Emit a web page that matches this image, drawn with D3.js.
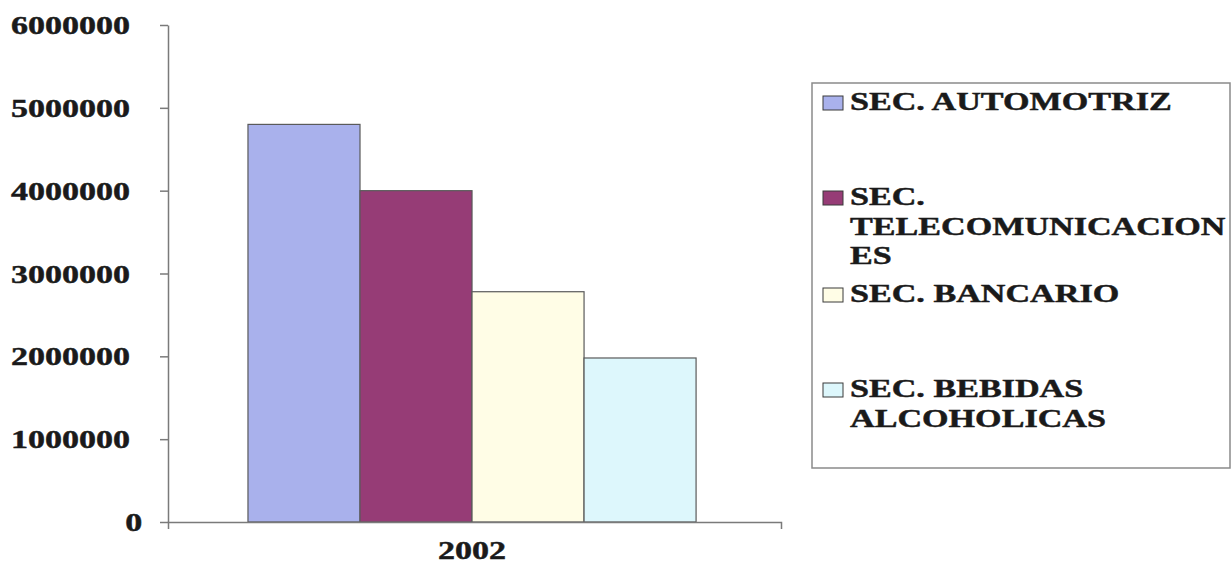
<!DOCTYPE html>
<html>
<head>
<meta charset="utf-8">
<script src="https://cdn.jsdelivr.net/npm/d3@7"></script>
<style>
  html, body { margin: 0; padding: 0; background: #fff; }
  svg { display: block; }
  text { font-family: "Liberation Serif", "Times New Roman", serif; font-weight: bold; fill: #1a1a1a; stroke: #1a1a1a; stroke-width: 0.45px; }
</style>
</head>
<body>
<svg id="chart" width="1231" height="564"></svg>
<script>
// Chart data
const years = ["2002"];
const sectors = ["SEC. AUTOMOTRIZ", "SEC. TELECOMUNICACIONES", "SEC. BANCARIO", "SEC. BEBIDAS ALCOHOLICAS"];
const values2002 = [4800000, 4000000, 2780000, 1980000];
const legendLines = [["SEC. AUTOMOTRIZ"], ["SEC.", "TELECOMUNICACION", "ES"], ["SEC. BANCARIO"], ["SEC. BEBIDAS", "ALCOHOLICAS"]];
const yTicks = [0, 1000000, 2000000, 3000000, 4000000, 5000000, 6000000];
const colors = ["#a9b1ec", "#963c76", "#fffde6", "#ddf7fc"];

const svg = d3.select("#chart");
const sx = 1.36;       // horizontal stretch of axis lettering
const sxLegend = 1.365; // horizontal stretch of legend lettering
const fontSize = 25;

const plot = { left: 168, right: 781, top: 25, bottom: 522 };

const y = d3.scaleLinear().domain([0, 6000000]).range([plot.bottom, plot.top]);
const x0 = d3.scaleBand().domain(years).range([plot.left, plot.right])
  .paddingInner(0).paddingOuter(0.184).align(0.485);
const x1 = d3.scaleBand().domain(sectors).range([0, x0.bandwidth()]).padding(0);

// Bars
const groups = svg.selectAll("g.year").data(years).join("g")
  .attr("class", "year")
  .attr("transform", d => `translate(${x0(d)},0)`);

groups.selectAll("rect").data(sectors.map((s, i) => ({ s, v: values2002[i], c: colors[i] })))
  .join("rect")
  .attr("x", d => x1(d.s))
  .attr("y", d => y(d.v))
  .attr("width", x1.bandwidth())
  .attr("height", d => y(0) - y(d.v))
  .attr("fill", d => d.c)
  .attr("stroke", "#5a5a5a")
  .attr("stroke-width", 1.2);

// Y axis
const yAxis = d3.axisLeft(y).tickValues(yTicks).tickSize(8).tickSizeOuter(0).tickFormat(d3.format("d"));
const gy = svg.append("g").attr("transform", `translate(${plot.left},0)`).call(yAxis);
gy.select(".domain").attr("stroke", "#7a7a7a").attr("stroke-width", 1.5);
gy.selectAll(".tick line").attr("stroke", "#7a7a7a").attr("stroke-width", 1.5);
gy.selectAll(".tick text")
  .attr("x", d => d === 0 ? -19 : -28)
  .attr("dy", "0.34em")
  .attr("transform", `scale(${sx},1)`)
  .style("font-size", fontSize + "px")
  .style("font-family", "'Liberation Serif', serif")
  .attr("fill", "#1a1a1a");

// X axis
const xAxis = d3.axisBottom(x0).tickSize(0).tickSizeOuter(7).tickFormat("");
const gx = svg.append("g").attr("transform", `translate(0,${plot.bottom})`).call(xAxis);
gx.select(".domain").attr("stroke", "#7a7a7a").attr("stroke-width", 1.5).attr("fill", "none");

svg.append("text")
  .attr("transform", `translate(${x0("2002") + x0.bandwidth() / 2},559) scale(${sx},1)`)
  .attr("text-anchor", "middle")
  .style("font-size", fontSize + "px")
  .text(years[0]);

// Legend
const legend = svg.append("g");
legend.append("rect")
  .attr("x", 812).attr("y", 83)
  .attr("width", 418).attr("height", 385)
  .attr("fill", "#fff")
  .attr("stroke", "#8a8a8a")
  .attr("stroke-width", 1.5);

const rowBaselines = [110, 205, 302, 397];
const lineGap = 29.5;
legendLines.forEach((lines, i) => {
  legend.append("rect")
    .attr("x", 823).attr("y", rowBaselines[i] - 14)
    .attr("width", 20).attr("height", 14)
    .attr("fill", colors[i])
    .attr("stroke", "#3a3a3a")
    .attr("stroke-width", 1);
  lines.forEach((t, j) => {
    legend.append("text")
      .attr("transform", `translate(850,${rowBaselines[i] + j * lineGap}) scale(${sxLegend},1)`)
      .style("font-size", fontSize + "px")
      .text(t);
  });
});
</script>
</body>
</html>
